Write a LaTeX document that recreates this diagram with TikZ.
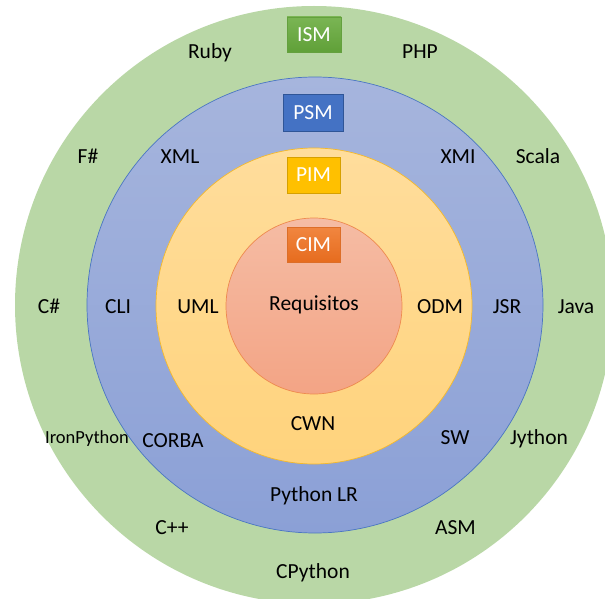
\documentclass[tikz,border=0pt]{standalone}
\usepackage{fontspec}
\setmainfont{Carlito}
\definecolor{gfill}{HTML}{B9D7A6}
\definecolor{btop}{HTML}{A6B5DD}
\definecolor{bbot}{HTML}{8BA0D6}
\definecolor{bline}{HTML}{4A76C2}
\definecolor{ytop}{HTML}{FFDD9C}
\definecolor{ybot}{HTML}{FFD37C}
\definecolor{yline}{HTML}{F5B92A}
\definecolor{rtop}{HTML}{F5BCA4}
\definecolor{rbot}{HTML}{F3A485}
\definecolor{rline}{HTML}{EE8A4E}
\definecolor{ismtop}{HTML}{7AB554}
\definecolor{ismbot}{HTML}{60A038}
\definecolor{ismline}{HTML}{64A03E}
\definecolor{psmfill}{HTML}{4472C4}
\definecolor{psmline}{HTML}{2F5597}
\definecolor{pimfill}{HTML}{FFC000}
\definecolor{pimline}{HTML}{D6A000}
\definecolor{cimtop}{HTML}{F18640}
\definecolor{cimbot}{HTML}{E66C1E}
\definecolor{cimline}{HTML}{DC6E28}
\begin{document}
\begin{tikzpicture}[x=1pt,y=-1pt,
  ring/.style={circle, inner sep=0pt},
  lbl/.style={font=\fontsize{21.5}{24}\selectfont, text=black, inner sep=0pt, anchor=base},
  tag/.style={font=\fontsize{21.5}{24}\selectfont, text=white, minimum width=54pt, minimum height=35pt, inner sep=0pt, line width=0.8pt}
]
\useasboundingbox (0,0) rectangle (605,599);
\clip (0,0) rectangle (605,599);
% rings
\node[ring, fill=gfill, minimum size=598pt] (green) at (314,305) {};
\node[ring, top color=btop, bottom color=bbot, draw=bline, line width=0.7pt, minimum size=456pt] (blue) at (315,305) {};
\node[ring, top color=ytop, bottom color=ybot, draw=yline, line width=0.7pt, minimum size=316pt] (yellow) at (314,306) {};
\node[ring, top color=rtop, bottom color=rbot, draw=rline, line width=0.7pt, minimum size=176pt] (red) at (314,306) {};
% tags
\node[tag, top color=ismtop, bottom color=ismbot, draw=ismline] (ism) at (314,34.5) {ISM};
\node[tag, fill=psmfill, draw=psmline, minimum width=60pt, minimum height=37pt] (psm) at (313,112.5) {PSM};
\node[tag, fill=pimfill, draw=pimline, minimum width=53pt, minimum height=36pt] (pim) at (313.5,175) {PIM};
\node[tag, top color=cimtop, bottom color=cimbot, draw=cimline, minimum width=53pt] (cim) at (313.5,244.5) {CIM};
% labels
\node[lbl] (ruby) at (210,59) {Ruby};
\node[lbl] (php) at (420,59) {PHP};
\node[lbl] (fsharp) at (88,164) {F\#};
\node[lbl] (xml) at (180,164) {XML};
\node[lbl] (xmi) at (458,164) {XMI};
\node[lbl] (scala) at (538,164) {Scala};
\node[lbl] (csharp) at (49,313) {C\#};
\node[lbl] (cli) at (118,313) {CLI};
\node[lbl] (uml) at (198,313) {UML};
\node[lbl] (req) at (314,310) {Requisitos};
\node[lbl] (odm) at (440,313) {ODM};
\node[lbl] (jsr) at (507,313) {JSR};
\node[lbl] (java) at (576,313) {Java};
\node[lbl, font=\fontsize{18.5}{21}\selectfont] (iron) at (87,443) {IronPython};
\node[lbl] (corba) at (173,447) {CORBA};
\node[lbl] (cwn) at (313,430) {CWN};
\node[lbl] (sw) at (455,444) {SW};
\node[lbl] (jython) at (539,444) {Jython};
\node[lbl] (pylr) at (314,501) {Python LR};
\node[lbl] (cpp) at (172,534) {C++};
\node[lbl] (asm) at (455.5,534) {ASM};
\node[lbl] (cpython) at (313,578) {CPython};
\end{tikzpicture}
\end{document}
